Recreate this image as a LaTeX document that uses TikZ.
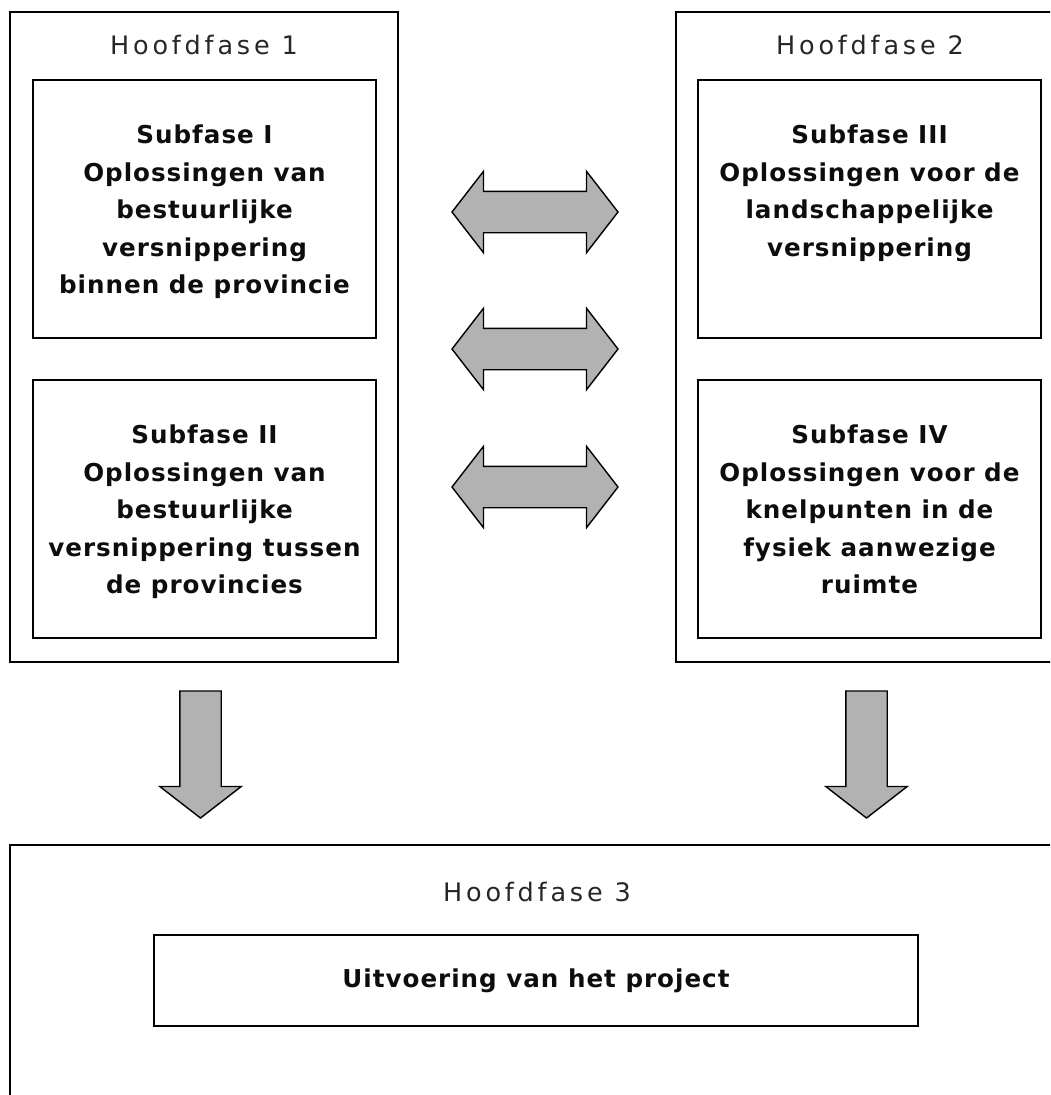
\documentclass[tikz,border=0pt]{standalone}
\usepackage{fontspec}
\setmainfont{DejaVu Sans}
\newfontfamily\ruimfont[LetterSpace=15]{DejaVu Sans}
\newfontfamily\vetfont[LetterSpace=4]{DejaVu Sans Bold}
\usetikzlibrary{positioning,shapes.arrows}

\tikzset{
  fasebox/.style={draw, line width=1.2pt, minimum width=7.76cm, minimum height=13cm, inner sep=0pt},
  subbox/.style={draw, line width=1.2pt, minimum width=6.86cm, minimum height=5.16cm, inner sep=0pt},
  fasetitel/.style={font=\ruimfont\fontsize{14.5}{17}\selectfont, text=black!85, inner sep=0pt},
  subtekst/.style={font=\vetfont\fontsize{14}{21.3}\selectfont, align=center, text=black!95, inner sep=0pt},
  dubbelpijl/.style={double arrow, draw, line width=0.8pt, fill=gray!60,
    inner xsep=0pt, inner ysep=0.4cm, minimum height=3.32cm,
    double arrow head extend=0.4cm, double arrow tip angle=104.5},
  neerpijl/.style={single arrow, shape border rotate=270, draw, line width=0.8pt, fill=gray!60,
    inner xsep=0.4cm, inner ysep=0pt, minimum height=2.54cm,
    single arrow head extend=0.4cm, single arrow tip angle=104.5}
}

\begin{document}
\begin{tikzpicture}
    \clip (0,0) rectangle (21,-21.9);

    % Hoofdfase 1
    \node[fasebox] (hf1) at (4.08,-6.74) {};
    \node[fasetitel, below=0.48cm of hf1.north] (hf1titel) {Hoofdfase 1};
    \node[subbox] (sub1) at (4.09,-4.18) {};
    \node[subtekst, below=0.92cm of sub1.north] (sub1tekst)
      {Subfase I\\Oplossingen van\\bestuurlijke\\versnippering\\binnen de provincie};
    \node[subbox] (sub2) at (4.09,-10.18) {};
    \node[subtekst, below=0.92cm of sub2.north] (sub2tekst)
      {Subfase II\\Oplossingen van\\bestuurlijke\\versnippering tussen\\de provincies};

    % Hoofdfase 2
    \node[fasebox] (hf2) at (17.4,-6.74) {};
    \node[fasetitel, below=0.48cm of hf2.north] (hf2titel) {Hoofdfase 2};
    \node[subbox] (sub3) at (17.39,-4.18) {};
    \node[subtekst, below=0.92cm of sub3.north] (sub3tekst)
      {Subfase III\\Oplossingen voor de\\landschappelijke\\versnippering};
    \node[subbox] (sub4) at (17.39,-10.18) {};
    \node[subtekst, below=0.92cm of sub4.north] (sub4tekst)
      {Subfase IV\\Oplossingen voor de\\knelpunten in de\\fysiek aanwezige\\ruimte};

    % Wisselwerking tussen de subfasen
    \node[dubbelpijl] (pijl1) at (10.7,-4.24) {};
    \node[dubbelpijl] (pijl2) at (10.7,-6.98) {};
    \node[dubbelpijl] (pijl3) at (10.7,-9.74) {};

    % Naar hoofdfase 3
    \node[neerpijl] (neer1) at (4.01,-14.93) {};
    \node[neerpijl] (neer2) at (17.33,-14.93) {};

    % Hoofdfase 3
    \node[draw, line width=1.2pt, minimum width=21.08cm, minimum height=5.5cm] (hf3) at (10.74,-19.65) {};
    \node[fasetitel, below=0.76cm of hf3.north] (hf3titel) {Hoofdfase 3};
    \node[draw, line width=1.2pt, minimum width=15.28cm, minimum height=1.82cm, subtekst] (uitv) at (10.72,-19.61)
      {Uitvoering van het project};
  \end{tikzpicture}
\end{document}
